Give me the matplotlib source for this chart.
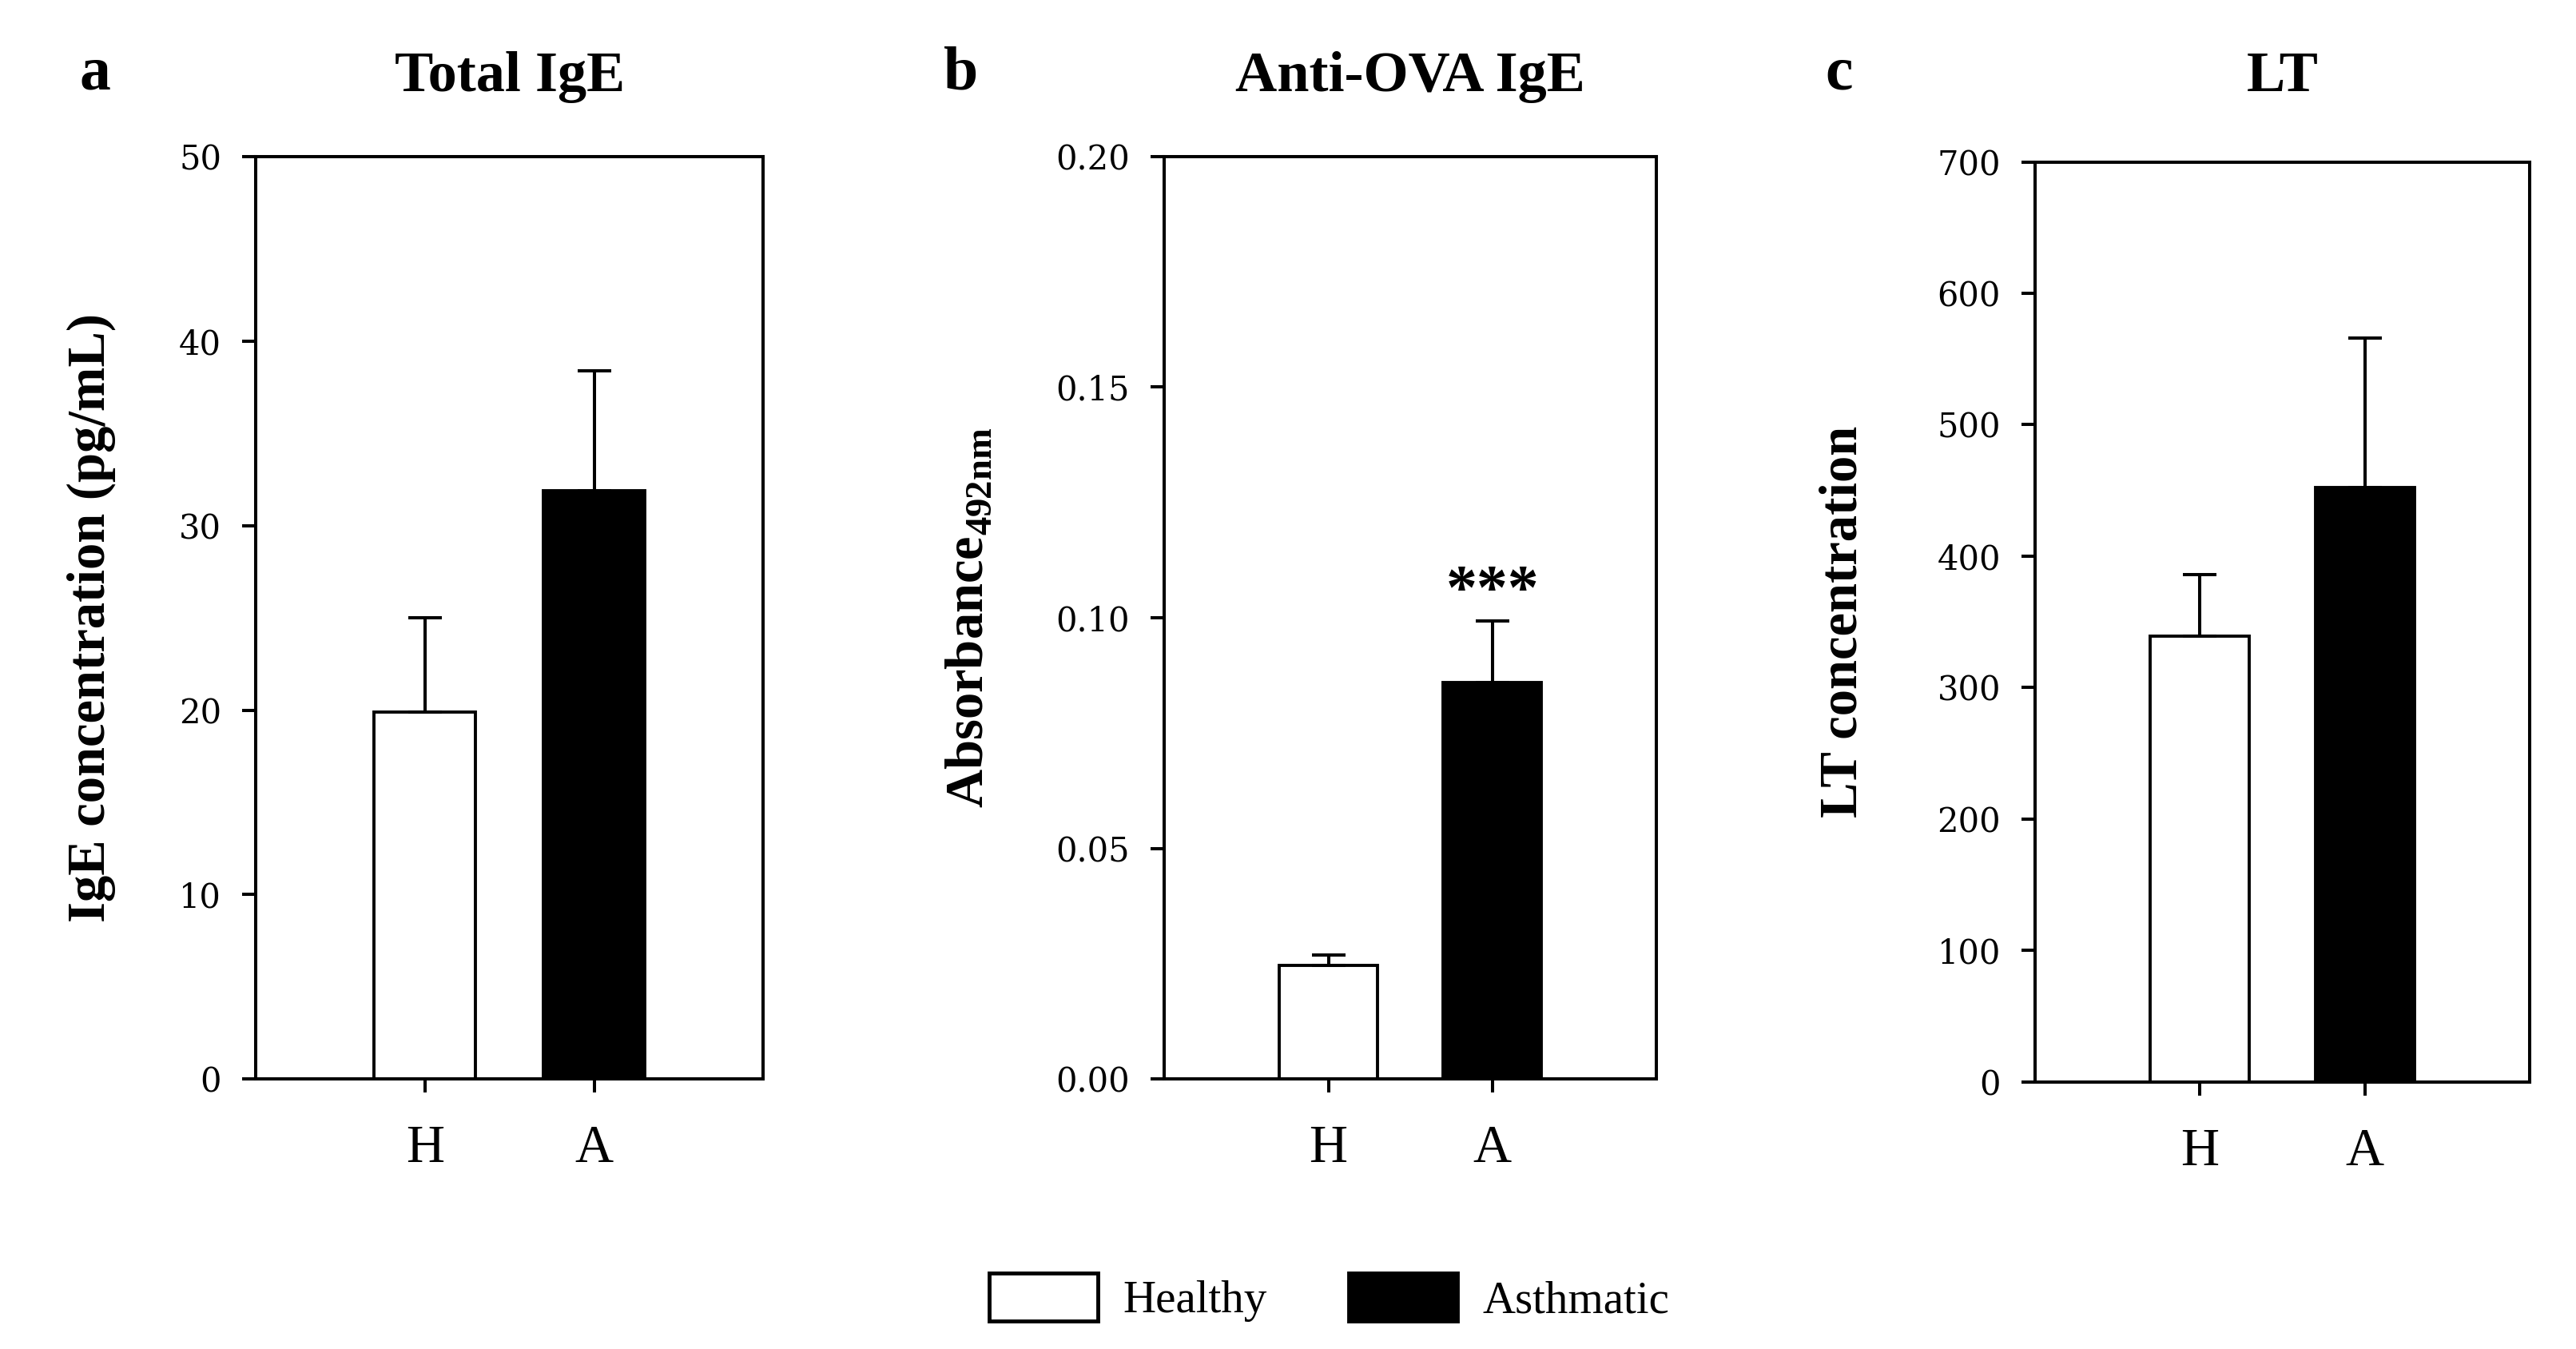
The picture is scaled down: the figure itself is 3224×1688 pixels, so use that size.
import matplotlib
matplotlib.use('Agg')
import matplotlib.pyplot as plt
from matplotlib.patches import Patch
import numpy as np

plt.rcParams['font.family'] = 'Liberation Serif'
plt.rcParams['mathtext.fontset'] = 'custom'
plt.rcParams['mathtext.bf'] = 'Liberation Serif:bold'
plt.rcParams['mathtext.rm'] = 'Liberation Serif'

groups = ['H', 'A']
titles = ['Total IgE', 'Anti-OVA IgE', 'LT']
panel_letters = ['a', 'b', 'c']
ylabels = ['IgE concentration (pg/mL)', r'$\mathbf{Absorbance}_{\mathbf{492nm}}$', 'LT concentration']

total_ige = [19.9, 31.9]
total_ige_err = [5.1, 6.5]
anti_ova = [0.0247, 0.0860]
anti_ova_err = [0.0022, 0.0133]
lt_conc = [339, 452]
lt_conc_err = [47, 114]

yticks_a = [0, 10, 20, 30, 40, 50]
yticks_b = [0.00, 0.05, 0.10, 0.15, 0.20]
yticks_c = [0, 100, 200, 300, 400, 500, 600, 700]

legend_names = ['Healthy', 'Asthmatic']
bar_colors = ['white', 'black']

fig = plt.figure(figsize=(32.24, 16.88), dpi=100)

rects = [[0.0993, 0.200, 0.197, 0.684],
         [0.452, 0.200, 0.191, 0.684],
         [0.790, 0.198, 0.192, 0.682]]
values = [total_ige, anti_ova, lt_conc]
errors = [total_ige_err, anti_ova_err, lt_conc_err]
yticks = [yticks_a, yticks_b, yticks_c]
fmts = ['{:.0f}', '{:.2f}', '{:.0f}']
label_x = [-0.275, -0.347, -0.338]
letter_x = [0.037, 0.373, 0.714]

x = np.array([1, 2])
for i in range(3):
    ax = fig.add_axes(rects[i])
    ax.bar(x, values[i], width=0.6, color=bar_colors, edgecolor='black', linewidth=2.8, zorder=2)
    ax.errorbar(x, values[i], yerr=[np.zeros(2), errors[i]], fmt='none', ecolor='black',
                elinewidth=2.9, capsize=15, capthick=2.9, zorder=3)
    ax.set_xlim(0, 3)
    ax.set_ylim(yticks[i][0], yticks[i][-1])
    ax.set_xticks(x)
    ax.set_xticklabels(groups, fontsize=48)
    ax.set_yticks(yticks[i])
    ax.set_yticklabels([fmts[i].format(v) for v in yticks[i]], fontsize=30, family='DejaVu Serif')
    ax.tick_params(axis='y', length=12, width=2.9, pad=19)
    ax.tick_params(axis='x', length=12, width=2.9, pad=29)
    for s in ax.spines.values():
        s.set_linewidth(2.9)
    ax.set_ylabel(ylabels[i], fontsize=48, fontweight='bold')
    ax.yaxis.set_label_coords(label_x[i], 0.5)
    fig.text(rects[i][0] + rects[i][2] / 2, 0.943, titles[i], fontsize=52,
             fontweight='bold', ha='center', va='center')
    fig.text(letter_x[i], 0.945, panel_letters[i], fontsize=56,
             fontweight='bold', ha='center', va='center')
    if i == 1:
        ax.text(x[1], values[i][1] + errors[i][1], '***', fontsize=56,
                fontweight='bold', ha='center', va='bottom')

handles = [Patch(facecolor=c, edgecolor='black', linewidth=3.5) for c in bar_colors]
fig.legend(handles, legend_names, loc='center', bbox_to_anchor=(0.516, 0.038), ncol=2,
           frameon=False, fontsize=41, handlelength=2.39, handleheight=1.24,
           handletextpad=0.55, columnspacing=1.8)

fig.savefig('out.png', dpi=100)
